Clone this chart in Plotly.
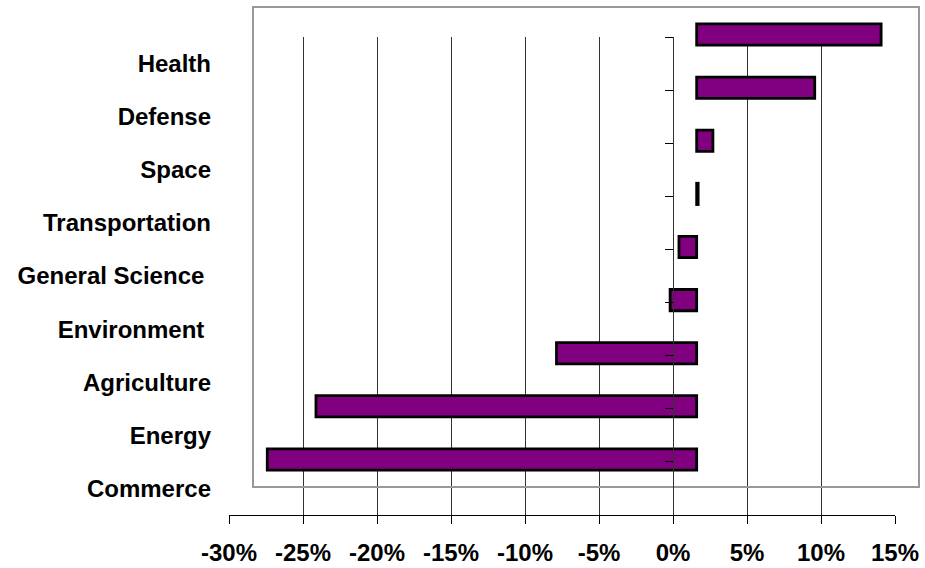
import plotly.graph_objects as go

# ---- data ----
categories = ["Health", "Defense", "Space", "Transportation", "General Science",
              "Environment", "Agriculture", "Energy", "Commerce"]
category_labels = ["Health", "Defense", "Space", "Transportation", "General Science\u00a0",
                   "Environment\u00a0", "Agriculture", "Energy", "Commerce"]
values = [12.5, 8.0, 1.1, 0.1, -1.2, -1.8, -9.5, -25.8, -29.1]
x_ticks = [-30, -25, -20, -15, -10, -5, 0, 5, 10, 15]
x_tick_labels = ["-30%", "-25%", "-20%", "-15%", "-10%", "-5%", "0%", "5%", "10%", "15%"]

n = len(categories)
W_PX, H_PX = 925, 568
L, R, T, B = 229, 6, 8, 53
PW, PH = W_PX - L - R, H_PX - T - B  # 690 x 507

FONT = dict(family="Liberation Sans, Arial, sans-serif", size=24, color="black", weight="bold")

fig = go.Figure()

# invisible anchor trace so the grid / label subplot is created
fig.add_trace(go.Scatter(x=[0], y=[0], xaxis="x", yaxis="y", mode="markers",
                         marker=dict(opacity=0), hoverinfo="skip", showlegend=False))
# bars (shifted plot area, like the original)
fig.add_trace(go.Bar(
    x=values, y=list(range(n)), orientation="h",
    xaxis="x2", yaxis="y2",
    marker=dict(color="#800080", line=dict(color="black", width=2.8)),
    width=0.4, hoverinfo="skip",
))
# invisible anchor trace for the zero-axis tick subplot
fig.add_trace(go.Scatter(x=[0], y=[0], xaxis="x3", yaxis="y3", mode="markers",
                         marker=dict(opacity=0), hoverinfo="skip", showlegend=False))

xr = [x_ticks[0], x_ticks[-1]]
yr = [n - 0.5, -0.5]

fig.update_layout(
    width=W_PX, height=H_PX,
    margin=dict(l=L, r=R, t=T, b=B, pad=0, autoexpand=False),
    paper_bgcolor="white", plot_bgcolor="rgba(0,0,0,0)",
    showlegend=False,
    font=FONT,
    xaxis=dict(
        domain=[0, 666 / PW], range=xr, anchor="y", automargin=False,
        tickmode="array", tickvals=x_ticks, ticktext=x_tick_labels,
        showgrid=True, gridcolor="#333", gridwidth=1,
        zeroline=False, showline=True, linecolor="black", linewidth=1,
        ticks="outside", ticklen=8, tickcolor="black", tickwidth=1,
        tickfont=FONT, ticklabelstandoff=8, fixedrange=True,
    ),
    yaxis=dict(
        domain=[0, 478 / PH], range=yr, anchor="x", automargin=False,
        tickmode="array", tickvals=list(range(n)), ticktext=category_labels,
        showgrid=False, zeroline=False, showline=False, ticks="",
        tickfont=FONT, ticklabelstandoff=17, fixedrange=True,
    ),
    xaxis2=dict(
        domain=[25 / PW, 689 / PW], range=xr, anchor="y2", automargin=False,
        showgrid=False, zeroline=False, showticklabels=False, ticks="",
        showline=True, mirror=True, linecolor="#999", linewidth=2, fixedrange=True,
    ),
    yaxis2=dict(
        domain=[29 / PH, 1], range=yr, anchor="x2", automargin=False,
        showgrid=False, zeroline=False, showticklabels=False, ticks="",
        showline=True, mirror=True, linecolor="#999", linewidth=2, fixedrange=True,
    ),
    xaxis3=dict(domain=[0, 666 / PW], range=xr, anchor="y3", visible=False,
                automargin=False, fixedrange=True),
    yaxis3=dict(
        domain=[0, 478 / PH], range=yr, anchor="free", position=444 / PW, automargin=False,
        tickmode="array", tickvals=[i - 0.5 for i in range(n + 1)],
        showticklabels=False, showgrid=False, zeroline=False,
        showline=True, linecolor="#333", linewidth=1,
        ticks="outside", ticklen=8, tickcolor="black", tickwidth=1, fixedrange=True,
    ),
    bargap=0.6,
)

fig.write_html("out.html", config={"displayModeBar": False})
